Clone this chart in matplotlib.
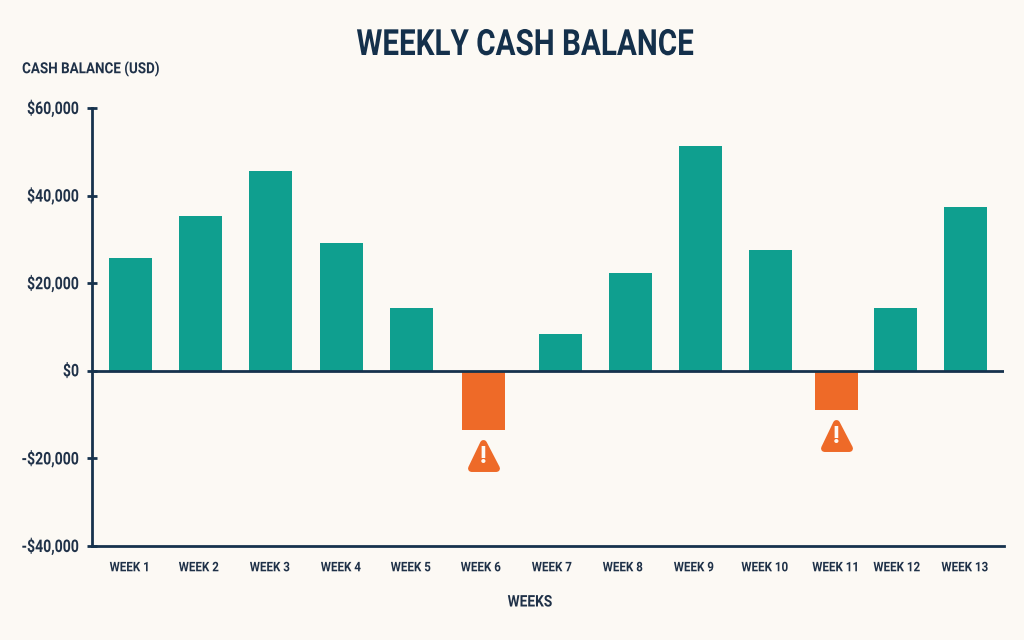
import matplotlib.pyplot as plt
from matplotlib.markers import MarkerStyle
from matplotlib.patheffects import AbstractPathEffect
from matplotlib.transforms import Affine2D, offset_copy
from matplotlib.ticker import FuncFormatter

weeks = ['WEEK 1', 'WEEK 2', 'WEEK 3', 'WEEK 4', 'WEEK 5', 'WEEK 6', 'WEEK 7',
         'WEEK 8', 'WEEK 9', 'WEEK 10', 'WEEK 11', 'WEEK 12', 'WEEK 13']
balance = [25800, 35400, 45700, 29200, 14400, -13500, 8400,
           22400, 51400, 27600, -8900, 14400, 37400]
y_ticks = [-40000, -20000, 0, 20000, 40000, 60000]

# bars and labels are not evenly spaced, x runs in pixels from the figure's left edge
bar_x = [130.5, 200, 270, 341, 411, 483, 560, 630, 700, 770, 836, 895, 965]
label_x = [130, 199, 270, 341, 411, 481, 552, 623, 694, 765, 836, 897, 965]

bg = '#fcf9f4'
navy = '#16324d'
text_col = '#1f3148'
teal = '#0f9f8f'
orange = '#ee6a28'

plt.rcParams['font.family'] = ['Roboto', 'DejaVu Sans']


class Squeeze(AbstractPathEffect):
    # narrows glyphs sideways, no condensed Roboto is available
    def __init__(self, sx, anchor=0.5, dy=0):
        super().__init__()
        self.sx = sx
        self.anchor = anchor
        self.dy = dy

    def draw_path(self, renderer, gc, tpath, affine, rgbFace=None):
        x0, x1 = tpath.get_extents().intervalx
        a = x0 + (x1 - x0) * self.anchor
        squeezed = Affine2D().translate(-a, 0).scale(self.sx, 1).translate(a, 0) + affine
        renderer.draw_path(gc, tpath, squeezed + Affine2D().translate(0, self.dy), rgbFace)


fig = plt.figure(figsize=(10.24, 6.4), dpi=100, facecolor=bg)
ax = fig.add_axes([92 / 1024, 1 - 546 / 640, 912 / 1024, 438 / 640], facecolor=bg)
ax.set_xlim(92, 1004)
ax.set_ylim(-40000, 60000)

colors = [teal if v >= 0 else orange for v in balance]
ax.bar(bar_x, balance, width=43, color=colors, zorder=2)
ax.axhline(0, color=navy, lw=2, zorder=3)

# warning sign under each negative week
below = offset_copy(ax.transData, fig=fig, x=0, y=-25, units='dots')
bang = offset_copy(ax.transData, fig=fig, x=0, y=-27, units='dots')
for x, v in zip(bar_x, balance):
    if v < 0:
        ax.plot([x], [v], marker=MarkerStyle('^', joinstyle='round'), ms=18, color=orange,
                mew=5, transform=below, clip_on=False, zorder=4)
        ax.text(x, v, '!', transform=bang, color=bg, fontsize=17, fontweight='black',
                ha='center', va='center', zorder=5)

for side in ['top', 'right']:
    ax.spines[side].set_visible(False)
for side in ['left', 'bottom']:
    ax.spines[side].set_color(navy)
    ax.spines[side].set_linewidth(2)

ax.set_yticks(y_ticks)
ax.yaxis.set_major_formatter(FuncFormatter(lambda v, p: f'-${-v:,.0f}' if v < 0 else f'${v:,.0f}'))
ax.tick_params(axis='y', direction='inout', length=6.5, width=2, color=navy, pad=6,
               labelsize=12.5, labelcolor=text_col)
for lab in ax.get_yticklabels():
    lab.set_fontweight('bold')
    lab.set_path_effects([Squeeze(0.81, anchor=1, dy=1)])

ax.set_xticks(label_x)
ax.set_xticklabels(weeks, fontsize=9.5, fontweight='bold', color=text_col)
ax.tick_params(axis='x', length=0, pad=11)
for lab in ax.get_xticklabels():
    lab.set_path_effects([Squeeze(0.88)])

t = fig.text(525 / 1024, 1 - 45 / 640, 'WEEKLY CASH BALANCE', fontsize=26, fontweight='bold',
             color='#14304b', ha='center', va='center')
t.set_path_effects([Squeeze(0.82)])
t = fig.text(22 / 1024, 1 - 69 / 640, 'CASH BALANCE (USD)', fontsize=11, fontweight='bold',
             color=text_col, ha='left', va='center')
t.set_path_effects([Squeeze(0.88, anchor=0)])
t = fig.text(530 / 1024, 1 - 602 / 640, 'WEEKS', fontsize=11.5, fontweight='bold',
             color=text_col, ha='center', va='center')
t.set_path_effects([Squeeze(0.86)])

fig.savefig('out.png', dpi=100, facecolor=bg)
